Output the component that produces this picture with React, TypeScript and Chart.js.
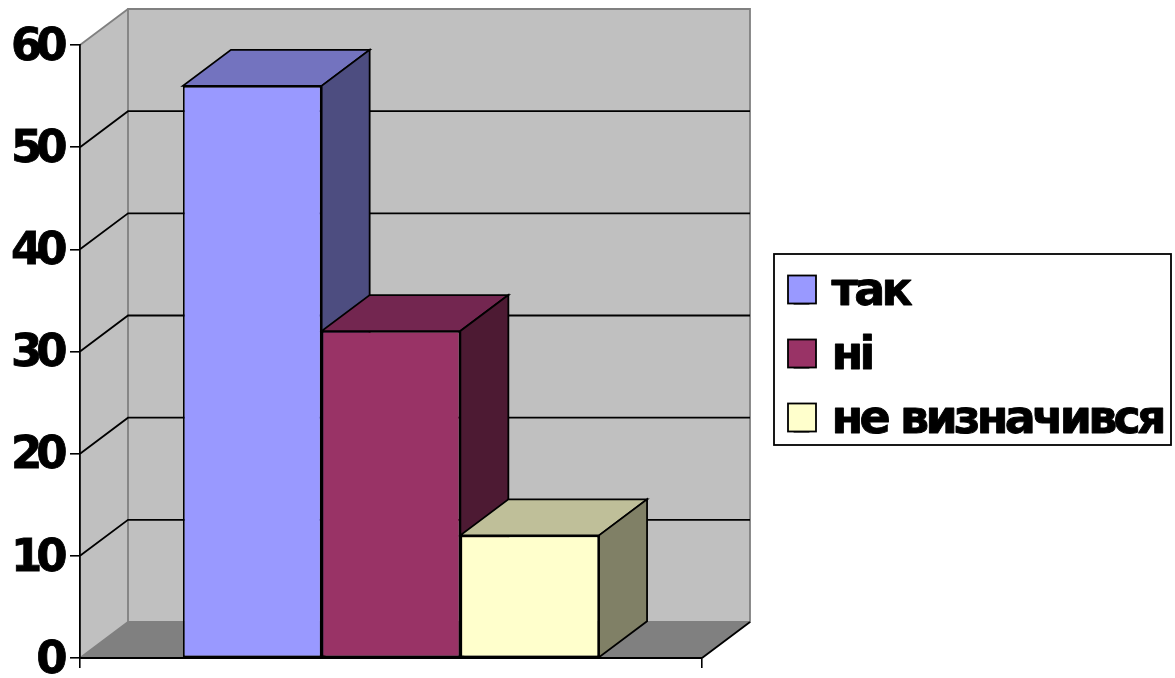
import React, { useEffect, useRef } from "react";
import { Chart, registerables } from "chart.js";

Chart.register(...registerables);

const categories = [""];
const seriesNames = ["так", "ні", "не визначився"];
const seriesValues = [[56], [32], [12]];
const frontColors = ["#9999FF", "#993366", "#FFFFCC"];
const topColors = ["#7373BF", "#732650", "#BFBF99"];
const sideColors = ["#4D4D80", "#4D1A33", "#808066"];
const gridValues = [10, 20, 30, 40, 50];

const DX = 48;
const DY = -36;
const FONT_FAMILY = "'DejaVu Sans'";
const TICK_SPACING = "-6px";
const LEGEND_SPACING = "-3.8px";
const LEGEND_WORD_SPACING = "1px";
const LEGEND_BOX = { left: 774, top: 254, right: 1171, bottom: 445 };
const LEGEND_PAD = 18;
const LEGEND_SWATCH = 28;
const LINE = 1.8;

function poly(ctx: any, pts: number[][], fill: string | null, stroke: string | null, lw = LINE) {
  ctx.beginPath();
  pts.forEach((p, i) => (i ? ctx.lineTo(p[0], p[1]) : ctx.moveTo(p[0], p[1])));
  ctx.closePath();
  if (fill) {
    ctx.fillStyle = fill;
    ctx.fill();
  }
  if (stroke) {
    ctx.strokeStyle = stroke;
    ctx.lineWidth = lw;
    ctx.stroke();
  }
}

const scene3d = {
  id: "scene3d",
  afterLayout(chart: any) {
    const l = chart.legend;
    const w = l.width;
    const h = l.height;
    l.left = 776.5;
    l.top = 252.5;
    l.right = l.left + w;
    l.bottom = l.top + h;
    if (!l.__wrapped) {
      l.__wrapped = true;
      const origDraw = l.draw;
      l.draw = function (...args: any[]) {
        const ctx = chart.ctx;
        const base = CanvasRenderingContext2D.prototype.fillText;
        ctx.letterSpacing = LEGEND_SPACING;
        ctx.wordSpacing = LEGEND_WORD_SPACING;
        ctx.fillText = function (t: string, x: number, y: number, m?: number) {
          base.call(ctx, t, x, y, m as any);
          ctx.lineWidth = 0.9;
          ctx.lineJoin = "round";
          ctx.strokeStyle = "#000";
          ctx.strokeText(t, x, y);
        };
        origDraw.apply(this, args);
        delete ctx.fillText;
        ctx.letterSpacing = TICK_SPACING;
        ctx.wordSpacing = "0px";
      };
    }
  },
  beforeDraw(chart: any) {
    const ctx = chart.ctx;
    ctx.letterSpacing = TICK_SPACING;
    const { left, right, top, bottom } = chart.chartArea;
    const y = chart.scales.y;
    const grey = "#808080";
    // left wall, back wall, floor
    poly(ctx, [[left, top], [left + DX, top + DY], [left + DX, bottom + DY], [left, bottom]], "#C0C0C0", null);
    poly(ctx, [[left + DX, top + DY], [right + DX, top + DY], [right + DX, bottom + DY], [left + DX, bottom + DY]], "#C0C0C0", grey);
    poly(ctx, [[left, bottom], [right, bottom], [right + DX, bottom + DY], [left + DX, bottom + DY]], grey, null);
    ctx.strokeStyle = grey;
    ctx.lineWidth = LINE;
    ctx.beginPath();
    ctx.moveTo(left, top);
    ctx.lineTo(left + DX, top + DY);
    ctx.moveTo(left, bottom);
    ctx.lineTo(left + DX, bottom + DY);
    ctx.stroke();
    ctx.strokeStyle = "#000";
    ctx.beginPath();
    ctx.moveTo(right, bottom);
    ctx.lineTo(right + DX, bottom + DY);
    gridValues.forEach((v) => {
      const py = y.getPixelForValue(v);
      ctx.moveTo(left, py);
      ctx.lineTo(left + DX, py + DY);
      ctx.lineTo(right + DX, py + DY);
    });
    ctx.stroke();
  },
  beforeDatasetsDraw(chart: any) {
    const ctx = chart.ctx;
    chart.data.datasets.forEach((_: any, i: number) => {
      const bar = chart.getDatasetMeta(i).data[0];
      const x0 = bar.x - bar.width / 2;
      const x1 = bar.x + bar.width / 2;
      const t = bar.y;
      const b = bar.base;
      poly(ctx, [[x0, t], [x1, t], [x1 + DX, t + DY], [x0 + DX, t + DY]], topColors[i], "#000");
      poly(ctx, [[x1, t], [x1 + DX, t + DY], [x1 + DX, b + DY], [x1, b]], sideColors[i], "#000");
    });
  },
  afterDraw(chart: any) {
    const ctx = chart.ctx;
    ctx.save();
    ctx.strokeStyle = "#000";
    ctx.lineWidth = LINE;
    ctx.strokeRect(LEGEND_BOX.left, LEGEND_BOX.top, LEGEND_BOX.right - LEGEND_BOX.left, LEGEND_BOX.bottom - LEGEND_BOX.top);
    chart.legend.legendItems.forEach((item: any, i: number) => {
      const sy = 275.5 + i * 64;
      ctx.fillStyle = item.fillStyle;
      ctx.fillRect(788, sy, LEGEND_SWATCH, LEGEND_SWATCH);
      ctx.strokeRect(788, sy, LEGEND_SWATCH, LEGEND_SWATCH);
    });
    ctx.restore();
  },
};

export default function App() {
  const ref = useRef<HTMLCanvasElement>(null);
  useEffect(() => {
    const chart = new Chart(ref.current as any, {
      type: "bar",
      data: {
        labels: categories,
        datasets: seriesNames.map((name, i) => ({
          label: name,
          data: seriesValues[i],
          backgroundColor: frontColors[i],
          borderColor: "#000",
          borderWidth: LINE,
          borderSkipped: false,
          categoryPercentage: 0.669,
          barPercentage: 1,
        })),
      },
      plugins: [scene3d],
      options: {
        responsive: false,
        animation: false,
        events: [],
        layout: { padding: { left: 0, top: 45, right: 473, bottom: 0 } },
        plugins: {
          title: { display: false },
          tooltip: { enabled: false },
          legend: {
            position: "chartArea",
            align: "start",
            labels: {
              boxWidth: 14,
              boxHeight: 20,
              padding: LEGEND_PAD,
              color: "#000",
              font: { family: FONT_FAMILY, weight: "bold", size: 46 },
            },
          },
        },
        scales: {
          x: {
            afterFit: (s: any) => {
              s.height = 20;
              s.paddingLeft = 0;
              s.paddingRight = 0;
            },
            grid: { drawOnChartArea: false, tickLength: 10, color: "#000", lineWidth: 1.6 },
            border: { color: "#000", width: 2 },
            ticks: { display: false },
          },
          y: {
            min: 0,
            max: 60,
            afterFit: (s: any) => {
              s.width = 80;
              s.paddingTop = 0;
              s.paddingBottom = 0;
            },
            grid: { drawOnChartArea: false, tickLength: 10, color: "#000", lineWidth: 1.6 },
            border: { color: "#000", width: 1.8 },
            ticks: {
              stepSize: 10,
              padding: 8.5,
              labelOffset: 3,
              color: "#000",
              textStrokeColor: "#000",
              textStrokeWidth: 0.8,
              font: { family: FONT_FAMILY, weight: "bold", size: 45 },
            },
          },
        },
      } as any,
    });
    return () => chart.destroy();
  }, []);
  return (
    <div style={{ position: "fixed", left: 0, top: 0 }}>
      <canvas ref={ref} width={1175} height={678} style={{ display: "block" }} />
    </div>
  );
}
